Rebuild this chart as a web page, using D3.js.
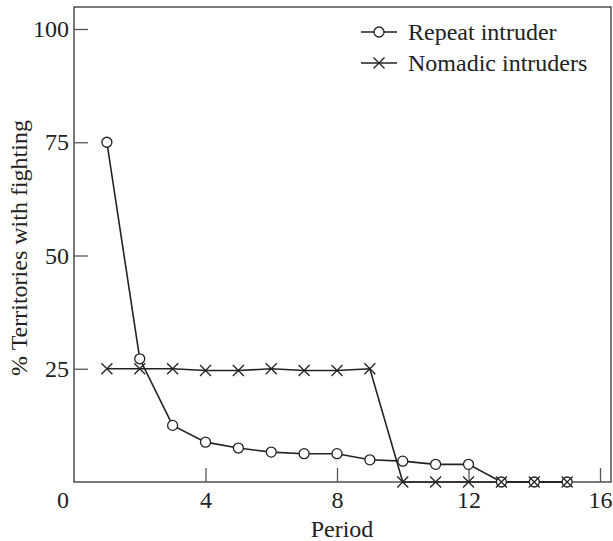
<!DOCTYPE html>
<html><head><meta charset="utf-8">
<script src="https://cdn.jsdelivr.net/npm/d3@7"></script>
<style>
body{margin:0;background:#fff;}
text{font-family:'Liberation Serif','DejaVu Serif','Times New Roman',serif;fill:#222;}
</style></head>
<body><svg id="chart" width="613" height="541"></svg>
<script>
const periods = [1,2,3,4,5,6,7,8,9,10,11,12,13,14,15];
const repeatIntruder = [75,27.2,12.5,8.8,7.5,6.6,6.25,6.25,4.9,4.6,3.9,3.9,0,0,0];
const nomadicIntruders = [25,25,25,24.6,24.6,25,24.6,24.6,25,0,0,0,0,0,0];
const xTicks = [4,8,12,16];
const yTicks = [25,50,75,100];
const seriesNames = ["Repeat intruder","Nomadic intruders"];

(function(){
const svg = d3.select("#chart");
const fLeft = 74, fRight = 611, fTop = 7, fBottom = 482;
const x = d3.scaleLinear().domain([0,16]).range([74,600]);
const y = d3.scaleLinear().domain([0,100]).range([482,29]);
const FS = 24;
const FF = "'Liberation Serif','DejaVu Serif','Times New Roman',serif";
const ink = "#222";

svg.append("rect").attr("x",fLeft).attr("y",fTop).attr("width",fRight-fLeft).attr("height",fBottom-fTop)
  .attr("fill","none").attr("stroke","#333").attr("stroke-width",1.3);

const yAxis = d3.axisLeft(y).tickValues(yTicks).tickSizeInner(-14).tickSizeOuter(0).tickPadding(20);
const gy = svg.append("g").attr("transform",`translate(${fLeft},0)`).call(yAxis);
gy.attr("font-family",FF);
gy.select(".domain").remove();
gy.selectAll(".tick line").attr("stroke","#555").attr("stroke-width",1.3);
gy.selectAll(".tick text").attr("font-size",FS).style("font-family",FF).attr("fill",ink).attr("x",-5);

const xAxis = d3.axisBottom(x).tickValues(xTicks).tickSizeInner(-14).tickSizeOuter(0).tickPadding(0);
const gx = svg.append("g").attr("transform",`translate(0,${fBottom})`).call(xAxis);
gx.attr("font-family",FF);
gx.select(".domain").remove();
gx.selectAll(".tick line").attr("stroke","#555").attr("stroke-width",1.3);
gx.selectAll(".tick text").attr("font-size",FS).style("font-family",FF).attr("fill",ink)
  .attr("dy",null).attr("y",26);

svg.append("text").attr("x",63).attr("y",fBottom+26).attr("text-anchor","middle").attr("font-size",FS).style("font-family",FF).text("0");

svg.append("text").attr("x",342).attr("y",537).attr("text-anchor","middle").attr("font-size",FS).style("font-family",FF).text("Period");
svg.append("text").attr("transform","translate(27,248) rotate(-90)").attr("text-anchor","middle")
  .attr("font-size",FS).style("font-family",FF).text("% Territories with fighting");

const line = d3.line().x((d,i)=>x(periods[i])).y(d=>y(d));

svg.append("path").datum(nomadicIntruders).attr("d",line).attr("fill","none").attr("stroke",ink).attr("stroke-width",1.6);
svg.append("path").datum(repeatIntruder).attr("d",line).attr("fill","none").attr("stroke",ink).attr("stroke-width",1.6);

function cross(g,cx,cy,s){
  g.append("path").attr("d",`M${cx-s},${cy-s}L${cx+s},${cy+s}M${cx-s},${cy+s}L${cx+s},${cy-s}`)
   .attr("stroke",ink).attr("stroke-width",1.3).attr("fill","none");
}
const gm = svg.append("g");
repeatIntruder.forEach((v,i)=>{
  gm.append("circle").attr("cx",x(periods[i])).attr("cy",y(v)).attr("r",5)
    .attr("fill","#fff").attr("stroke",ink).attr("stroke-width",1.3);
});
nomadicIntruders.forEach((v,i)=>cross(gm,x(periods[i]),y(v),5.5));

const lg = svg.append("g");
const ly = [32,63];
lg.append("line").attr("x1",361).attr("x2",397).attr("y1",ly[0]).attr("y2",ly[0]).attr("stroke",ink).attr("stroke-width",1.6);
lg.append("circle").attr("cx",379).attr("cy",ly[0]).attr("r",5).attr("fill","#fff").attr("stroke",ink).attr("stroke-width",1.3);
lg.append("line").attr("x1",361).attr("x2",397).attr("y1",ly[1]).attr("y2",ly[1]).attr("stroke",ink).attr("stroke-width",1.6);
cross(lg,379,ly[1],5.5);
seriesNames.forEach((n,i)=>{
  lg.append("text").attr("x",408).attr("y",ly[i]+8).attr("font-size",FS).style("font-family",FF).text(n);
});
})();
</script></body></html>
